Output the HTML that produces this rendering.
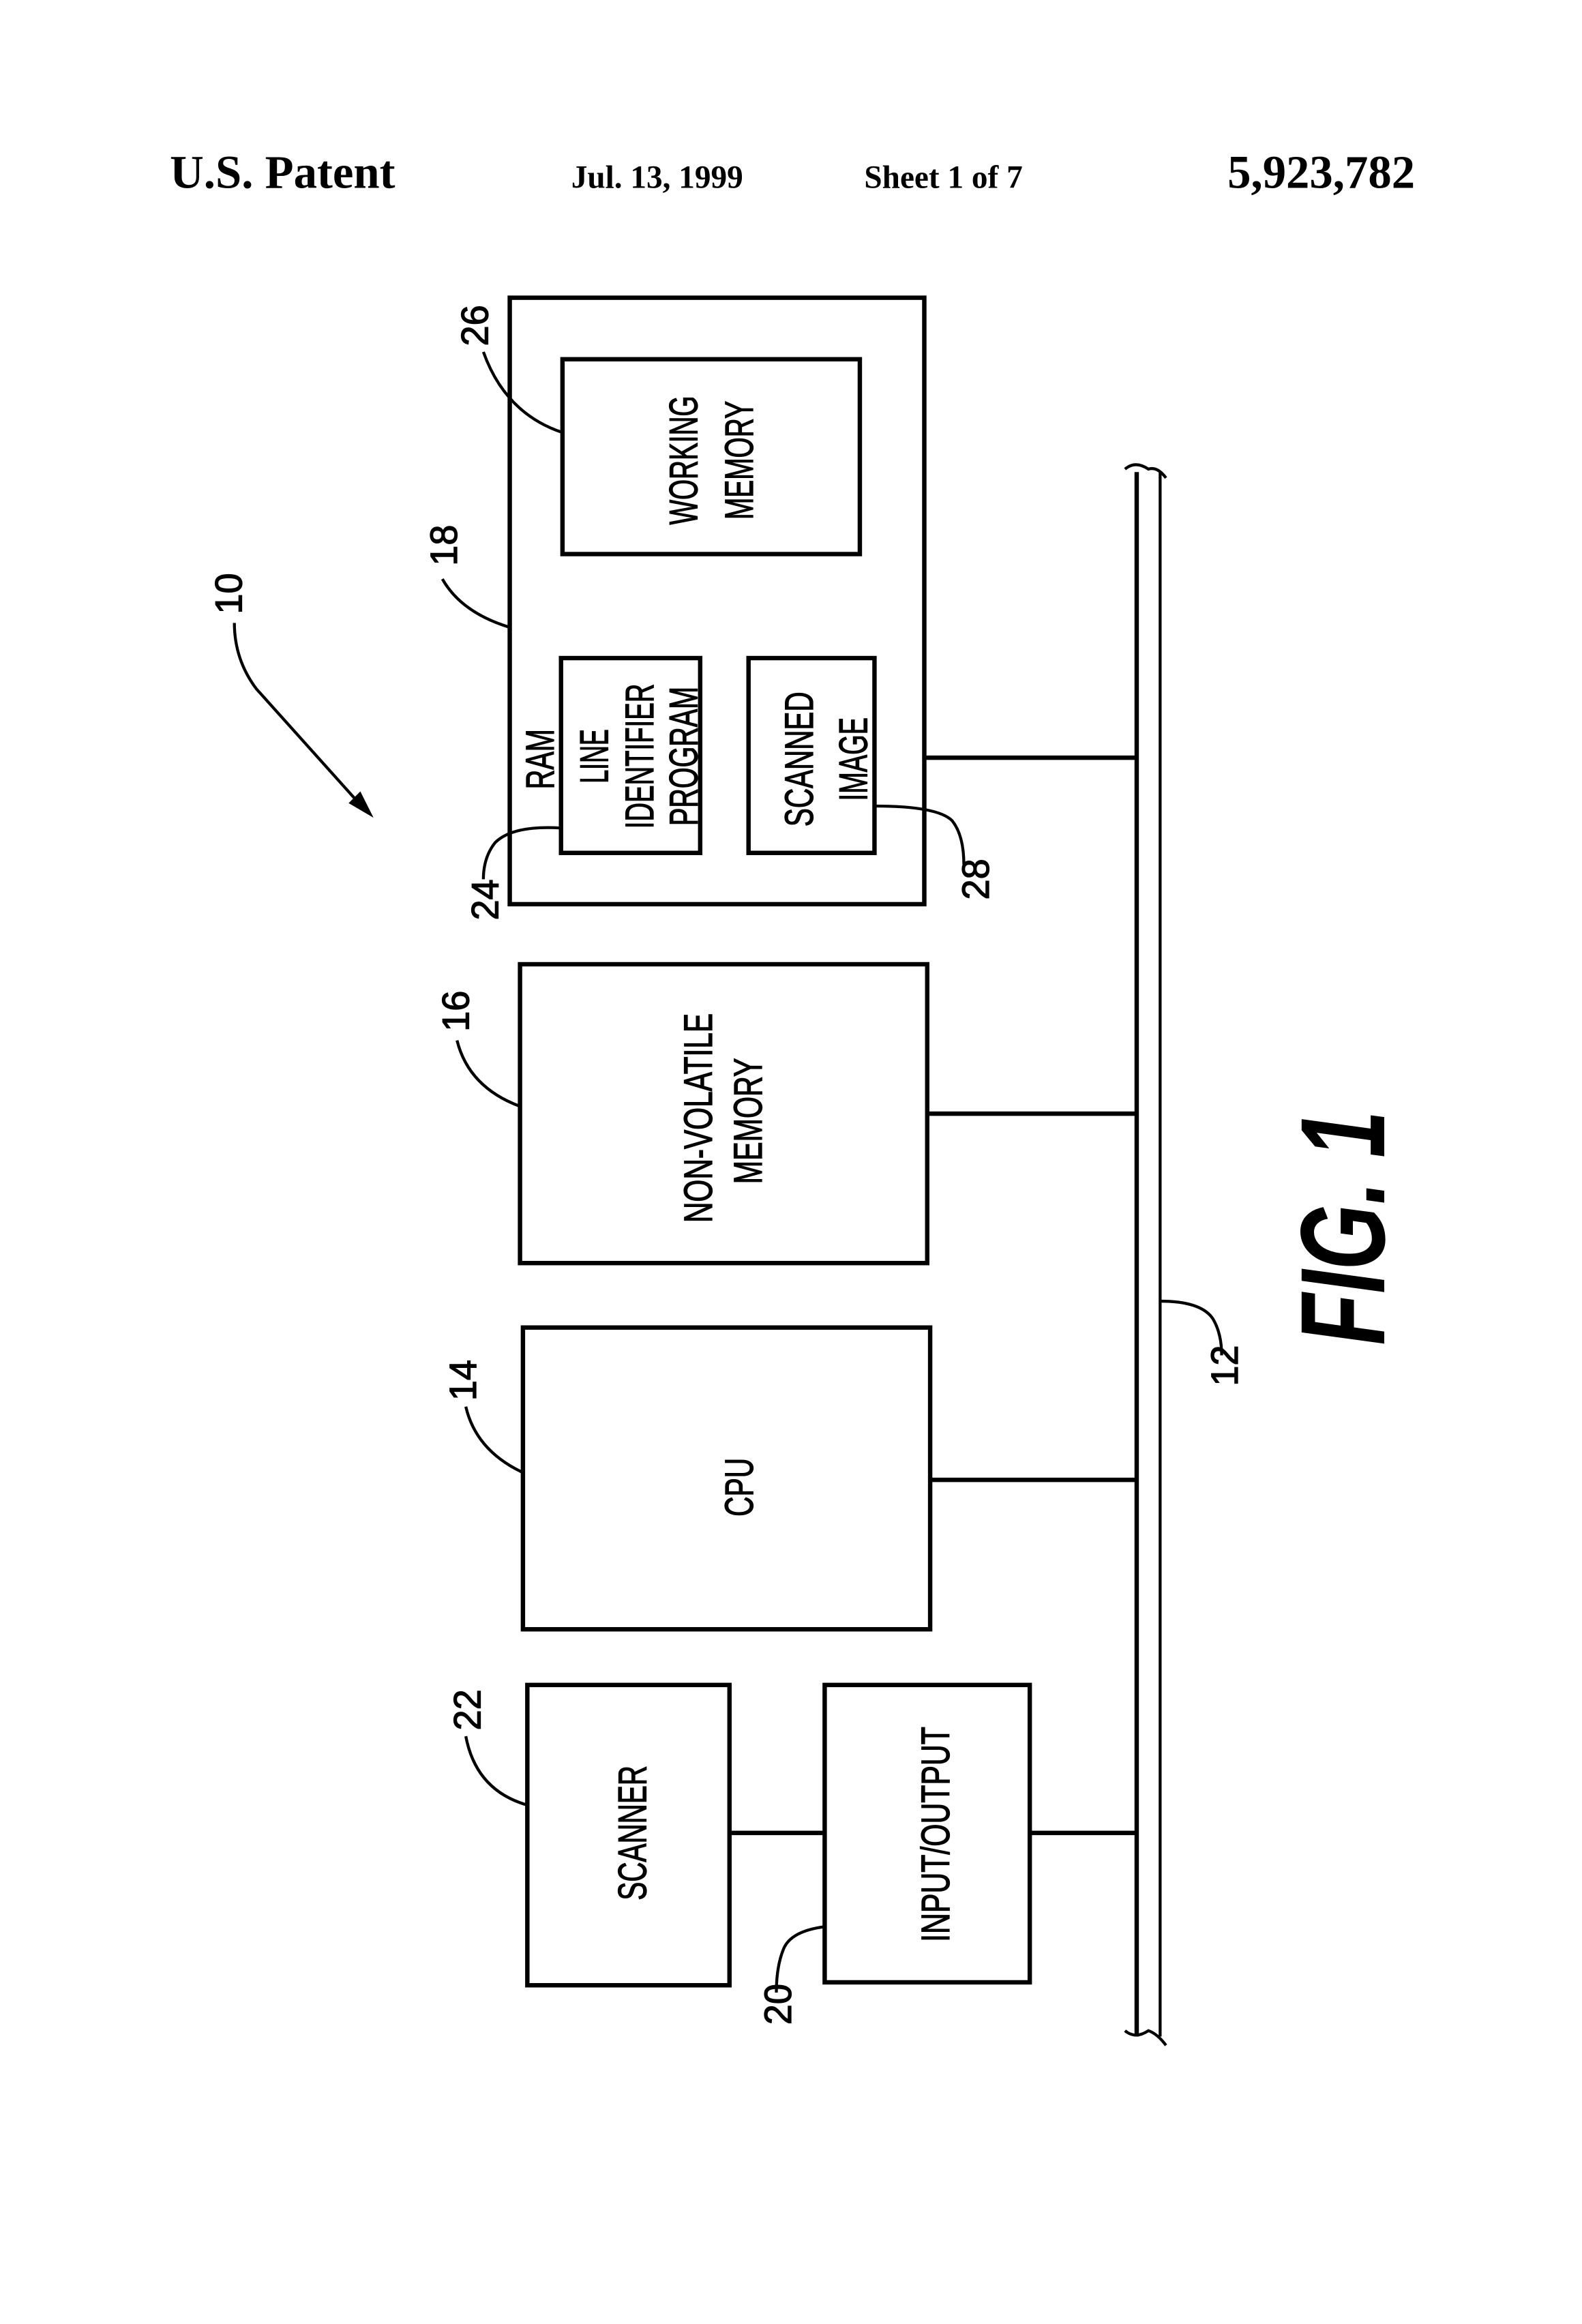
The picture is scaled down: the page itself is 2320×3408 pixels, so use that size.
<!DOCTYPE html>
<html><head><meta charset="utf-8"><style>
html,body{margin:0;padding:0;background:#fff;}
svg{display:block;}
</style></head><body>
<svg width="2320" height="3408" viewBox="0 0 1080 1586" xmlns="http://www.w3.org/2000/svg">
<rect width="1080" height="1586" fill="#fff"/>
<g font-family="Liberation Serif, serif" font-weight="bold" fill="#000">
<text x="116" y="128" font-size="32">U.S. Patent</text>
<text x="390" y="128" font-size="22">Jul. 13, 1999</text>
<text x="590" y="128" font-size="22">Sheet 1 of 7</text>
<text x="838" y="128" font-size="32">5,923,782</text>
</g>
<g fill="none" stroke="#000" stroke-width="3">
<rect x="348" y="203" width="283" height="414"/>
<rect x="384" y="245" width="203" height="133"/>
<rect x="383" y="449" width="95" height="133"/>
<rect x="511" y="449" width="86" height="133"/>
<rect x="355" y="658" width="278" height="204"/>
<rect x="357" y="906" width="278" height="206"/>
<rect x="360" y="1150" width="138" height="205"/>
<rect x="563" y="1150" width="140" height="203"/>
<line x1="776" y1="322" x2="776" y2="1390"/>
<line x1="792" y1="322" x2="792" y2="1390" stroke-width="2"/>
<path d="M768 320 Q775 314 784 320 Q790 318 796 326" stroke-width="2"/>
<path d="M768 1386 Q775 1392 784 1386 Q790 1388 796 1396" stroke-width="2"/>
<line x1="631" y1="517" x2="776" y2="517"/>
<line x1="633" y1="760" x2="776" y2="760"/>
<line x1="635" y1="1010" x2="776" y2="1010"/>
<line x1="498" y1="1251" x2="563" y2="1251"/>
<line x1="703" y1="1251" x2="776" y2="1251"/>
<g stroke-width="2">
<path d="M384 295 Q345 282 330 240"/>
<path d="M348 428 Q315 418 302 395"/>
<path d="M383 565 Q350 563 338 575 Q330 585 330 600"/>
<path d="M597 550 Q640 550 650 560 Q658 570 658 590"/>
<path d="M355 755 Q320 742 312 710"/>
<path d="M357 1005 Q325 990 318 960"/>
<path d="M360 1232 Q325 1222 318 1185"/>
<path d="M563 1315 Q540 1318 535 1330 Q530 1342 530 1360"/>
<path d="M792 888 Q820 888 828 900 Q834 910 834 925"/>
<path d="M160 425 Q160 450 175 470 L245 548"/>
</g>
</g>
<polygon points="255,558 238,548 246,540" fill="#000"/>
<g font-family="Liberation Sans, sans-serif" fill="#000" stroke="#000" stroke-width="0.6" font-size="27" text-anchor="middle">
<text transform="translate(476,314) rotate(-90)" textLength="88" lengthAdjust="spacingAndGlyphs">WORKING</text>
<text transform="translate(514,314) rotate(-90)" textLength="81" lengthAdjust="spacingAndGlyphs">MEMORY</text>
<text transform="translate(378,518) rotate(-90)" textLength="41" lengthAdjust="spacingAndGlyphs">RAM</text>
<text transform="translate(415,516) rotate(-90)" textLength="37" lengthAdjust="spacingAndGlyphs">LINE</text>
<text transform="translate(446,516) rotate(-90)" textLength="99" lengthAdjust="spacingAndGlyphs">IDENTIFIER</text>
<text transform="translate(476,516) rotate(-90)" textLength="95" lengthAdjust="spacingAndGlyphs">PROGRAM</text>
<text transform="translate(555,518) rotate(-90)" textLength="92" lengthAdjust="spacingAndGlyphs">SCANNED</text>
<text transform="translate(592,518) rotate(-90)" textLength="57" lengthAdjust="spacingAndGlyphs">IMAGE</text>
<text transform="translate(486,763) rotate(-90)" textLength="143" lengthAdjust="spacingAndGlyphs">NON-VOLATILE</text>
<text transform="translate(520,765) rotate(-90)" textLength="86" lengthAdjust="spacingAndGlyphs">MEMORY</text>
<text transform="translate(514,1015) rotate(-90)" textLength="40" lengthAdjust="spacingAndGlyphs">CPU</text>
<text transform="translate(441,1251) rotate(-90)" textLength="92" lengthAdjust="spacingAndGlyphs">SCANNER</text>
<text transform="translate(648,1252) rotate(-90)" textLength="147" lengthAdjust="spacingAndGlyphs">INPUT/OUTPUT</text>
<g font-size="26">
<text transform="translate(165,405) rotate(-90)" textLength="28" lengthAdjust="spacingAndGlyphs">10</text>
<text transform="translate(312,372) rotate(-90)" textLength="28" lengthAdjust="spacingAndGlyphs">18</text>
<text transform="translate(333,222) rotate(-90)" textLength="28" lengthAdjust="spacingAndGlyphs">26</text>
<text transform="translate(340,614) rotate(-90)" textLength="28" lengthAdjust="spacingAndGlyphs">24</text>
<text transform="translate(675,600) rotate(-90)" textLength="28" lengthAdjust="spacingAndGlyphs">28</text>
<text transform="translate(320,690) rotate(-90)" textLength="28" lengthAdjust="spacingAndGlyphs">16</text>
<text transform="translate(325,942) rotate(-90)" textLength="28" lengthAdjust="spacingAndGlyphs">14</text>
<text transform="translate(845,932) rotate(-90)" textLength="28" lengthAdjust="spacingAndGlyphs">12</text>
<text transform="translate(328,1167) rotate(-90)" textLength="28" lengthAdjust="spacingAndGlyphs">22</text>
<text transform="translate(540,1368) rotate(-90)" textLength="28" lengthAdjust="spacingAndGlyphs">20</text>
</g>
<text transform="translate(945,838) rotate(-90)" stroke-width="0" font-size="82" font-style="italic" font-weight="bold" textLength="160" lengthAdjust="spacingAndGlyphs">FIG. 1</text>
</g>
</svg>
</body></html>
